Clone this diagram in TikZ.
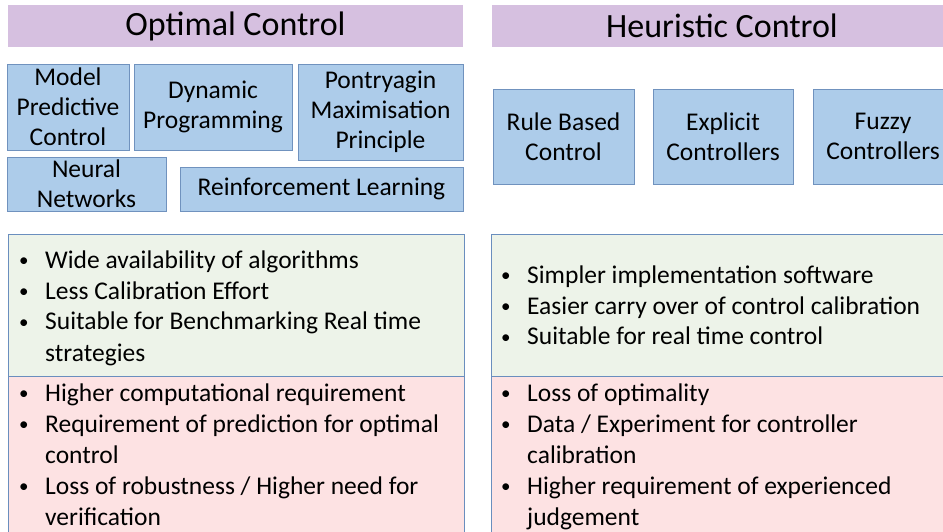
\documentclass[tikz,border=0pt]{standalone}
\usepackage{fontspec}
\setmainfont{Carlito}
\definecolor{hdr}{RGB}{214,192,224}
\definecolor{bfill}{RGB}{173,204,234}
\definecolor{bdraw}{RGB}{112,146,190}
\definecolor{gfill}{RGB}{237,243,233}
\definecolor{rfill}{RGB}{253,226,227}
\definecolor{pdraw}{RGB}{106,142,190}
\tikzset{
  hdrbox/.style={fill=hdr,inner sep=0pt,font=\fontsize{34}{40}\selectfont},
  algbox/.style={draw=bdraw,line width=0.9pt,fill=bfill,inner sep=0pt,align=center,font=\fontsize{25.5}{30}\selectfont},
  probox/.style={draw=pdraw,line width=0.9pt,inner sep=0pt},
  listtxt/.style={inner sep=0pt,anchor=base west,font=\fontsize{25.5}{31}\selectfont}
}
\newcommand{\bl}{\makebox[24pt][l]{\hspace*{-2pt}\raisebox{1.5pt}{\fontsize{19}{19}\selectfont\textbullet}}}
\newcommand{\ct}{\hspace*{24pt}}
\newcommand{\blist}[1]{\renewcommand{\arraystretch}{1}\begin{tabular}[t]{@{}l@{}}#1\end{tabular}}
\begin{document}
\begin{tikzpicture}[x=1pt,y=-1pt]
\useasboundingbox (0,0) rectangle (943,532);
\clip (0,0) rectangle (943,532);
% headers
\node[hdrbox,minimum width=455pt,minimum height=42pt] (oc) at (235.5,26) {Optimal Control};
\node[hdrbox,minimum width=460pt,minimum height=42pt] (hc) at (722,26) {Heuristic Control};
% optimal control methods
\node[algbox,minimum width=122pt,minimum height=86pt] (mpc) at (68,107) {Model\\Predictive\\Control};
\node[algbox,minimum width=158pt,minimum height=86pt] (dp) at (213,107) {Dynamic\\Programming};
\node[algbox,minimum width=165pt,minimum height=96pt] (pmp) at (380.5,112) {Pontryagin\\Maximisation\\Principle};
\node[algbox,minimum width=159pt,minimum height=54pt] (nn) at (86.5,184) {Neural\\Networks};
\node[algbox,minimum width=283pt,minimum height=44pt] (rl) at (321.5,189) {Reinforcement Learning};
% heuristic control methods
\node[algbox,minimum width=141pt,minimum height=95pt] (rbc) at (563.5,136.5) {Rule Based\\Control};
\node[algbox,minimum width=140pt,minimum height=95pt] (ec) at (723,136.5) {Explicit\\Controllers};
\node[algbox,minimum width=140pt,minimum height=95pt] (fc) at (883,136.5) {Fuzzy\\Controllers};
% pros / cons boxes
\node[probox,fill=gfill,minimum width=456pt,minimum height=142pt] (og) at (236,305) {};
\node[probox,fill=rfill,minimum width=456pt,minimum height=170pt] (or) at (236,461) {};
\node[probox,fill=gfill,minimum width=462pt,minimum height=142pt] (hg) at (722,305) {};
\node[probox,fill=rfill,minimum width=462pt,minimum height=170pt] (hr) at (722,461) {};
% lists
\node[listtxt] (ogt) at (21,268) {\blist{\bl Wide availability of algorithms\\\bl Less Calibration Effort\\\bl Suitable for Benchmarking Real time\\\ct strategies}};
\node[listtxt] (ort) at (21,401) {\blist{\bl Higher computational requirement\\\bl Requirement of prediction for optimal\\\ct control\\\bl Loss of robustness / Higher need for\\\ct verification}};
\node[listtxt] (hgt) at (503,283) {\blist{\bl Simpler implementation software\\\bl Easier carry over of control calibration\\\bl Suitable for real time control}};
\node[listtxt] (hrt) at (503,401) {\blist{\bl Loss of optimality\\\bl Data / Experiment for controller\\\ct calibration\\\bl Higher requirement of experienced\\\ct judgement}};
\end{tikzpicture}
\end{document}
